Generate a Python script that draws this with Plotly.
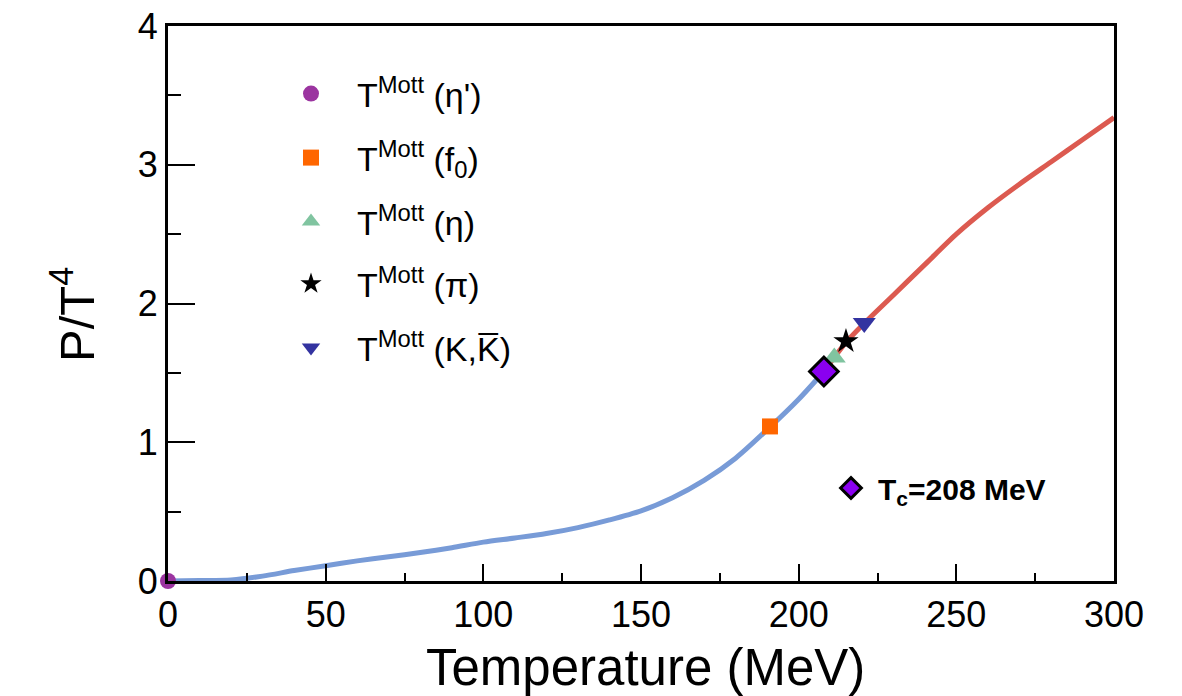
import plotly.graph_objects as go

# ---------------- data ----------------
# hadronic phase (blue) pressure curve
T_blue = [0, 10, 20, 30, 40, 50, 60, 70, 80, 90, 100, 110, 120, 130, 140, 150, 160, 170, 180, 190, 200, 208]
P_blue = [0, 0.003, 0.008, 0.035, 0.075, 0.11, 0.145, 0.175, 0.205, 0.24, 0.28, 0.31, 0.342, 0.385, 0.44, 0.505,
          0.60, 0.725, 0.885, 1.09, 1.31, 1.51]
# quark phase (red) pressure curve
T_red = [208, 215, 220, 230, 240, 250, 260, 270, 280, 290, 300]
P_red = [1.51, 1.72, 1.84, 2.06, 2.28, 2.50, 2.69, 2.86, 3.02, 3.18, 3.34]

# Mott temperatures
mott_names = ["T<sup>Mott</sup> (\u03b7')", "T<sup>Mott</sup> (f<sub>0</sub>)", "T<sup>Mott</sup> (\u03b7)",
              "T<sup>Mott</sup> (\u03c0)", "T<sup>Mott</sup> (K,K\u0305)"]
mott_T = [0, 190.9, 211.3, 215.0, 220.8]
mott_P = [0, 1.114, 1.61, 1.728, 1.86]
mott_symbols = ["circle", "square", "triangle-up", "star", "triangle-down"]
mott_colors = ["#9b34a0", "#ff6600", "#80c4a0", "#000000", "#3333a0"]
mott_sizes = [16, 16, 20, 19, 20]

Tc_T = [208]
Tc_P = [1.51]
Tc_name = "<b>T<sub>c</sub>=208 MeV</b>"

x_ticks = [0, 50, 100, 150, 200, 250, 300]
y_ticks = [0, 1, 2, 3, 4]
x_title = "Temperature (MeV)"
y_title = "P/T<sup>4</sup>"

FONT = "Liberation Sans, Arial, Helvetica, sans-serif"
W, H = 1182, 696

fig = go.Figure()
fig.add_trace(go.Scatter(x=T_blue, y=P_blue, mode="lines", line=dict(color="#789bd7", width=5, shape="spline", smoothing=0.8),
                         showlegend=False, hoverinfo="skip"))
fig.add_trace(go.Scatter(x=T_red, y=P_red, mode="lines", line=dict(color="#dc5a50", width=5, shape="spline", smoothing=0.8),
                         showlegend=False, hoverinfo="skip"))

# legend rows positions (pixel centers of legend symbols)
leg_rows = [94, 158, 222, 284, 348]
legends = {}
for i, (nm, t, p, sym, col, sz) in enumerate(zip(mott_names, mott_T, mott_P, mott_symbols, mott_colors, mott_sizes)):
    lid = "legend" if i == 0 else f"legend{i + 1}"
    fig.add_trace(go.Scatter(x=[t], y=[p], mode="markers", name=nm, legend=lid,
                             marker=dict(symbol=sym, color=col, size=sz, line=dict(width=0)),
                             cliponaxis=False))
    legends[lid] = dict(x=265 / W, y=1 - leg_rows[i] / H, xref="container", yref="container",
                        xanchor="left", yanchor="middle", itemwidth=82,
                        font=dict(family=FONT, size=34, color="black"),
                        bgcolor="rgba(0,0,0,0)", borderwidth=0)

fig.add_trace(go.Scatter(x=Tc_T, y=Tc_P, mode="markers", name=Tc_name, legend="legend6",
                         marker=dict(symbol="diamond", color="#8a00f0", size=22,
                                     line=dict(color="black", width=3)),
                         cliponaxis=False))
legends["legend6"] = dict(x=824 / W, y=1 - 488 / H, xref="container", yref="container",
                          xanchor="left", yanchor="middle", itemwidth=44,
                          font=dict(family=FONT, size=30, color="black"),
                          bgcolor="rgba(0,0,0,0)", borderwidth=0)

axis_common = dict(showgrid=False, zeroline=False, showline=True, linecolor="black", linewidth=3,
                   mirror=True, ticks="inside", tickcolor="black", tickwidth=2, automargin=False,
                   tickfont=dict(family=FONT, size=36, color="black"))

fig.update_layout(
    width=W, height=H,
    margin=dict(l=168, r=68, t=26, b=115, autoexpand=False),
    paper_bgcolor="white", plot_bgcolor="white",
    font=dict(family=FONT, color="black"),
    xaxis=dict(range=[0, 300], tickvals=x_ticks, ticklen=17, tickangle=0,
               minor=dict(dtick=25, ticklen=8, tickwidth=2, tickcolor="black", ticks="inside"),
               **axis_common),
    yaxis=dict(range=[0, 4], tickvals=y_ticks, ticklen=27,
               minor=dict(dtick=0.5, ticklen=13, tickwidth=2, tickcolor="black", ticks="inside"),
               **axis_common),
    annotations=[
        dict(text=x_title, xref="paper", yref="paper", x=(645 - 168) / 946, y=(581 - 667) / 555,
             xanchor="center", yanchor="middle", showarrow=False,
             font=dict(family=FONT, size=51, color="black")),
        dict(text=y_title, xref="paper", yref="paper", x=(73 - 168) / 946, y=(581 - 315) / 555,
             xanchor="center", yanchor="middle", showarrow=False, textangle=-90,
             font=dict(family=FONT, size=49, color="black")),
    ],
    **legends,
)

fig.write_html("out.html")
